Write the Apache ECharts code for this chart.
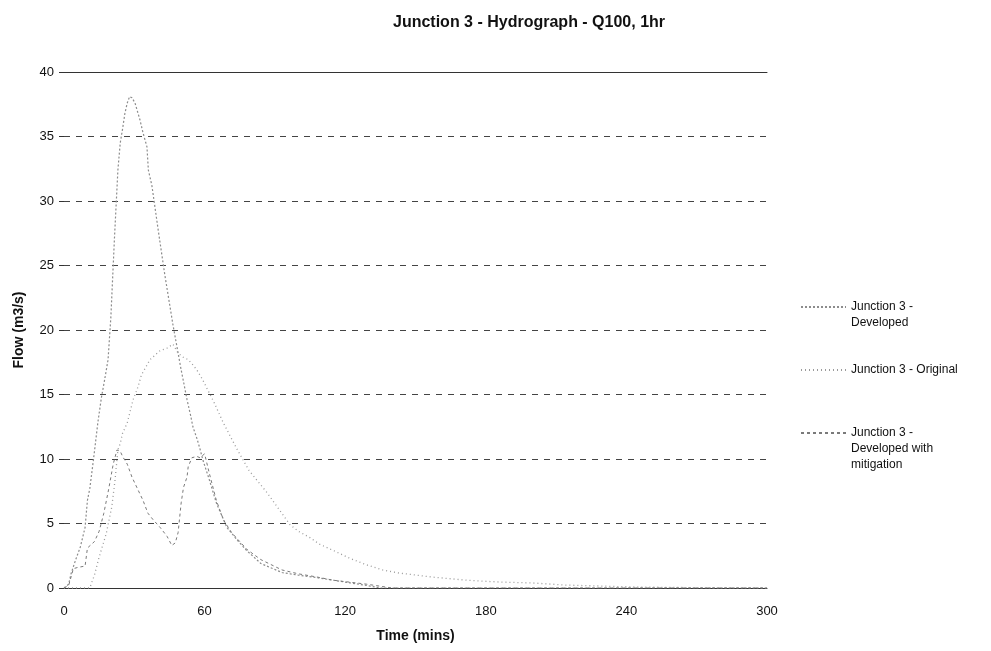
<!DOCTYPE html>
<html>
<head>
<meta charset="utf-8">
<script src="https://cdn.jsdelivr.net/npm/echarts@6/dist/echarts.min.js"></script>
<style>html,body{margin:0;padding:0;background:#fff}#c{width:991px;height:651px}</style>
</head>
<body>
<div id="c"></div>
<script>
var seriesNames = ['Junction 3 - Developed', 'Junction 3 - Original', 'Junction 3 - Developed with mitigation'];
var legendLabels = [' \nJunction 3 -\nDeveloped', 'Junction 3 - Original', ' \n \nJunction 3 -\nDeveloped with\nmitigation'];

var devTime = [0, 2, 3, 5, 7, 9, 10, 11, 12.4, 13.2, 14.5, 16, 17.5, 18.8, 20, 21.5, 23, 24, 25, 26, 27, 28, 29, 30.3, 32.4, 33.7, 35.4, 36, 37.5, 40, 43, 46.5, 50, 51, 52.5, 54, 55, 56.7, 58, 59.3, 62, 65, 69.5, 74, 78, 84, 93, 100, 108, 115, 122, 129, 135, 300];
var devFlow = [0, 0.3, 1.1, 2.2, 3.2, 4.7, 6.8, 7.7, 9.7, 10.9, 12.9, 14.8, 16.3, 17.7, 21, 27, 32.4, 34.5, 35.6, 36.8, 37.6, 38.1, 38, 37.6, 36.3, 35.3, 34.2, 32.4, 31.2, 28, 24.3, 20.4, 16.9, 16.0, 14.6, 13.4, 12.5, 11.6, 10.8, 9.9, 8.4, 6.6, 4.7, 3.7, 2.9, 1.9, 1.2, 1.0, 0.8, 0.6, 0.4, 0.2, 0, 0];

var origTime = [0, 11, 13, 15, 18, 20.4, 21.8, 23, 24, 25, 27, 29.5, 31.6, 33, 36.7, 41, 44, 46.5, 48.7, 50.8, 53, 55, 56.7, 59, 61.5, 64, 68, 74, 79, 86.6, 96.5, 100, 105, 109, 115, 122, 129, 136, 143, 157, 172, 186, 200, 214, 229, 243, 257, 275, 300];
var origFlow = [0, 0, 1.0, 2.4, 4.2, 6.3, 8.4, 10.7, 11.2, 12.0, 12.8, 14.6, 15.6, 16.5, 17.7, 18.4, 18.6, 18.9, 18.2, 17.9, 17.7, 17.3, 16.9, 16.2, 15.3, 14.4, 12.8, 10.7, 9.1, 7.4, 4.9, 4.4, 3.9, 3.4, 2.9, 2.3, 1.8, 1.4, 1.16, 0.85, 0.6, 0.46, 0.39, 0.23, 0.15, 0.08, 0.05, 0.02, 0];

var mitTime = [0, 2, 4, 6, 9, 10, 13, 15, 17, 19, 21, 22.6, 24, 25, 27, 29, 31.6, 33.7, 35.8, 38, 41, 44, 46, 47.5, 48.7, 50, 51, 52.5, 53, 54.6, 56.7, 58, 60, 62, 65, 68, 71.5, 78, 84, 93, 100, 108, 115, 122, 129, 140, 300];
var mitFlow = [0, 0.2, 1.5, 1.6, 1.7, 3.1, 3.6, 4.4, 5.8, 7.6, 9.6, 10.7, 10.6, 10.2, 9.6, 8.6, 7.6, 6.8, 5.8, 5.3, 4.7, 4.0, 3.3, 3.5, 4.3, 6.6, 7.8, 8.6, 9.4, 10.1, 10.2, 10.1, 10.4, 8.9, 6.8, 5.3, 4.3, 3.0, 2.2, 1.4, 1.1, 0.85, 0.6, 0.45, 0.3, 0, 0];

var xTicks = [0, 60, 120, 180, 240, 300];
var yTicks = [0, 5, 10, 15, 20, 25, 30, 35, 40];

function pairs(t, v) { return t.map(function (x, i) { return [x, v[i]]; }); }

var FONT = 'Liberation Sans, Arial, sans-serif';
var legendTops = [283, 362, 393];
function makeLegend(i) {
  return {
    orient: 'vertical', left: 800, top: legendTops[i], padding: 0,
    itemWidth: 45, itemHeight: 8, itemGap: 0,
    data: [seriesNames[i]],
    itemStyle: { opacity: 0 },
    formatter: function (n) { return legendLabels[seriesNames.indexOf(n)]; },
    textStyle: { fontFamily: FONT, fontSize: 12, color: '#111', lineHeight: 16 }
  };
}

var chart = echarts.init(document.getElementById('c'));
chart.setOption({
  backgroundColor: '#fff',
  animation: false,
  title: {
    text: 'Junction 3 - Hydrograph - Q100, 1hr',
    left: 388, top: 10,
    textStyle: { fontFamily: FONT, fontSize: 16, fontWeight: 'bold', color: '#111' }
  },
  grid: { left: 64, right: 224, top: 72, bottom: 63, containLabel: false },
  legend: [makeLegend(0), makeLegend(1), makeLegend(2)],
  xAxis: [{
    type: 'value', min: xTicks[0], max: xTicks[xTicks.length - 1], interval: 60,
    name: 'Time (mins)', nameLocation: 'middle', nameGap: 41,
    nameTextStyle: { fontFamily: FONT, fontSize: 14, fontWeight: 'bold', color: '#111' },
    axisLine: { show: true, lineStyle: { color: '#333', width: 1 } },
    axisTick: { show: false },
    splitLine: { show: false },
    axisLabel: { fontFamily: FONT, fontSize: 13, color: '#111', margin: 17 }
  }, {
    type: 'value', position: 'top', min: 0, max: 300,
    axisLine: { show: true, lineStyle: { color: '#333', width: 1 } },
    axisTick: { show: false }, axisLabel: { show: false }, splitLine: { show: false }
  }],
  yAxis: {
    type: 'value', min: yTicks[0], max: yTicks[yTicks.length - 1], interval: 5,
    name: 'Flow (m3/s)', nameLocation: 'middle', nameGap: 38, nameRotate: 90,
    nameTextStyle: { fontFamily: FONT, fontSize: 14, fontWeight: 'bold', color: '#111' },
    axisLine: { show: false },
    axisTick: { show: true, length: 5, lineStyle: { color: '#333' } },
    axisLabel: { fontFamily: FONT, fontSize: 13, color: '#111', margin: 10 },
    splitLine: { show: true, lineStyle: { color: '#444', type: [6, 6], width: 1 } }
  },
  series: [{
    name: seriesNames[0], type: 'line', showSymbol: false, symbol: 'none',
    data: pairs(devTime, devFlow),
    lineStyle: { color: '#8c8c8c', type: [2, 2], width: 1.2 },
    itemStyle: { color: '#8c8c8c' }
  }, {
    name: seriesNames[1], type: 'line', showSymbol: false, symbol: 'none',
    data: pairs(origTime, origFlow),
    lineStyle: { color: '#9a9a9a', type: [1, 3], width: 1.3 },
    itemStyle: { color: '#9a9a9a' }
  }, {
    name: seriesNames[2], type: 'line', showSymbol: false, symbol: 'none',
    data: pairs(mitTime, mitFlow),
    lineStyle: { color: '#7a7a7a', type: [3, 3], width: 1 },
    itemStyle: { color: '#7a7a7a' }
  }]
});
</script>
</body>
</html>
